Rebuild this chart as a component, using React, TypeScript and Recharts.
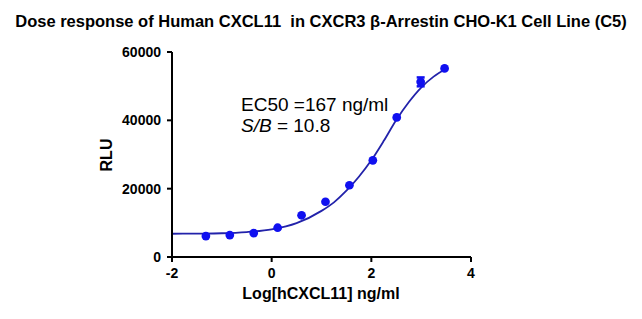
import React from "react";
import {
  ComposedChart,
  Line,
  Scatter,
  ErrorBar,
  XAxis,
  YAxis,
  ZAxis,
} from "recharts";

// measured points (log concentration, RLU)
const doseLog = [-1.32, -0.84, -0.36, 0.12, 0.6, 1.08, 1.56, 2.03, 2.51, 2.99, 3.47];
const rlu = [6120, 6410, 7000, 8570, 12210, 16170, 21000, 28290, 40850, 51260, 55200];
const rluErr = [0, 0, 0, 0, 0, 0, 0, 0, 0, 1300, 0];

// fitted curve
const fitLog = [-2, -1.5, -1, -0.5, 0, 0.5, 1, 1.25, 1.5, 1.75, 2, 2.25, 2.5, 2.75, 3, 3.25, 3.5];
const fitRlu = [6800, 6850, 6950, 7300, 8100, 9900, 13500, 16000, 19400, 23500, 28300, 34000, 40100, 45300, 49600, 52800, 55100];

const xTicks = [-2, 0, 2, 4];
const yTicks = [0, 20000, 40000, 60000];

const title = "Dose response of Human CXCL11  in CXCR3 \u03b2-Arrestin CHO-K1 Cell Line (C5)";

const points = doseLog.map((x, i) => ({ x, y: rlu[i], err: rluErr[i] }));
const curve = fitLog.map((x, i) => ({ x, y: fitRlu[i] }));

const font = "'Liberation Sans', Arial, sans-serif";
const tick = { fill: "#000", fontSize: 14, fontWeight: 700, fontFamily: font };

export default function App() {
  return (
    <div style={{ position: "absolute", left: 0, top: 0, width: 642, height: 319, background: "#fff", fontFamily: font }}>
      <ComposedChart width={642} height={319} margin={{ top: 52, right: 171, bottom: 32, left: 112 }}>
        <XAxis
          type="number"
          dataKey="x"
          domain={[-2, 4]}
          ticks={xTicks}
          allowDataOverflow
          stroke="#000"
          strokeWidth={2}
          tickSize={5}
          tickMargin={6}
          height={30}
          tick={tick}
        />
        <YAxis
          type="number"
          dataKey="y"
          domain={[0, 60000]}
          ticks={yTicks}
          stroke="#000"
          strokeWidth={2}
          tickSize={5}
          tickMargin={6}
          width={60}
          tick={tick}
        />
        <ZAxis range={[60, 60]} />
        <Line
          data={curve}
          dataKey="y"
          type="monotone"
          stroke="#2222aa"
          strokeWidth={1.8}
          dot={false}
          isAnimationActive={false}
        />
        <Scatter data={points} dataKey="y" fill="#1010f0" isAnimationActive={false}>
          <ErrorBar dataKey="err" direction="y" width={4} strokeWidth={2.5} stroke="#1010f0" />
        </Scatter>
      </ComposedChart>

      <div style={{ position: "absolute", left: 0, width: 642, top: 12, textAlign: "center", fontSize: 16.5, fontWeight: 700, whiteSpace: "pre", color: "#000" }}>
        {title}
      </div>
      <div style={{ position: "absolute", left: 241, top: 94, fontSize: 19, lineHeight: "21px", color: "#000" }}>
        <div>EC50 =167 ng/ml</div>
        <div><i>S/B</i> = 10.8</div>
      </div>
      <div style={{ position: "absolute", left: 321, top: 285, transform: "translateX(-50%)", fontSize: 16, fontWeight: 700, whiteSpace: "nowrap", color: "#000" }}>
        Log[hCXCL11] ng/ml
      </div>
      <div style={{ position: "absolute", left: 107, top: 155, transform: "translate(-50%, -50%) rotate(-90deg)", fontSize: 16, fontWeight: 700, color: "#000" }}>
        RLU
      </div>
    </div>
  );
}
